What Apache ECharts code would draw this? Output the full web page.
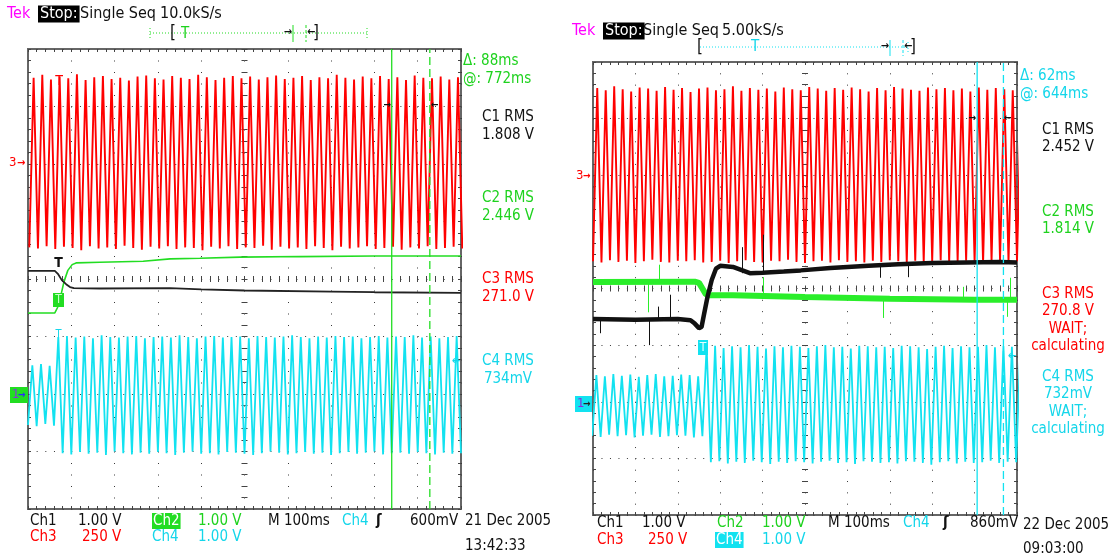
<!DOCTYPE html>
<html><head><meta charset="utf-8">
<script src="https://cdn.jsdelivr.net/npm/echarts@6/dist/echarts.min.js"></script>
<style>html,body{margin:0;padding:0;background:#fff}#c{width:1110px;height:560px}</style>
</head><body><div id="c"></div>
<script>
// ---------------- DATA ----------------
// time axis in ms (100 ms/div, 10 div), vertical axis in screen divisions (8 div)
const timeMin = 0, timeMax = 1000, timeStep = 100;
const divMin = -4, divMax = 4, divStep = 1;
const halfPeriod = 10; // 50 Hz mains: crest/trough every 10 ms

// ---- Left capture (21 Dec 2005 13:42:33) ----
const leftRedStart = 3;   // first trough time (ms)
const leftRedLo = [0.55,0.53,0.57,0.52,0.56,0.54,0.50,0.57,0.53,0.55,0.52,0.58,0.54,0.51,0.56,0.53,0.57,0.52,0.55,0.54,0.50,0.56,0.53,0.57,0.52,0.55,0.54,0.58,0.51,0.56,0.53,0.55,0.52,0.57,0.54,0.50,0.56,0.53,0.55,0.57,0.52,0.54,0.56,0.51,0.55,0.53,0.57,0.52,0.54,0.56,0.53];
const leftRedHi = [3.50,3.55,3.47,3.52,3.49,3.56,3.46,3.51,3.53,3.48,3.50,3.45,3.52,3.54,3.49,3.47,3.53,3.50,3.48,3.55,3.51,3.46,3.50,3.53,3.49,3.52,3.47,3.51,3.54,3.48,3.50,3.53,3.46,3.51,3.49,3.55,3.50,3.47,3.52,3.49,3.53,3.48,3.51,3.46,3.54,3.50,3.49,3.52,3.47,3.51];
const leftCyanStart = 0;  // first trough time (ms)
const leftCyanLo = [-2.54,-2.56,-2.52,-2.55,-3.03,-3.05,-3.01,-3.04,-3.02,-3.06,-3.00,-3.03,-3.05,-3.02,-3.04,-3.01,-3.03,-3.06,-3.02,-3.00,-3.04,-3.03,-3.05,-3.01,-3.02,-3.04,-3.06,-3.03,-3.00,-3.02,-3.05,-3.03,-3.01,-3.04,-3.02,-3.06,-3.03,-3.01,-3.04,-3.02,-3.00,-3.05,-3.03,-3.02,-3.04,-3.01,-3.03,-3.05,-3.02,-3.04,-3.03];
const leftCyanHi = [-1.50,-1.48,-1.51,-1.01,-0.99,-1.02,-1.00,-1.03,-0.98,-1.01,-1.02,-1.00,-0.99,-1.03,-1.01,-1.00,-1.02,-0.98,-1.01,-1.03,-1.00,-0.99,-1.02,-1.01,-1.00,-1.03,-0.99,-1.01,-1.02,-1.00,-0.98,-1.01,-1.03,-1.00,-1.02,-0.99,-1.01,-1.00,-1.03,-1.01,-0.99,-1.02,-1.00,-1.01,-0.98,-1.02,-1.00,-1.03,-1.01,-0.99];
const leftGreenT = [0, 62, 68, 74, 83, 92, 102, 111, 166, 266, 328, 397, 490, 628, 800, 1000];
const leftGreenV = [-0.59, -0.59, -0.50, -0.35, -0.05, 0.15, 0.25, 0.28, 0.29, 0.31, 0.35, 0.36, 0.38, 0.39, 0.40, 0.40];
const leftBlackT = [0, 62, 69, 78, 88, 97, 106, 166, 328, 400, 500, 700, 800, 1000];
const leftBlackV = [0.14, 0.14, 0.09, -0.02, -0.09, -0.14, -0.16, -0.165, -0.16, -0.18, -0.20, -0.22, -0.23, -0.24];
const leftCursors = [840, 928];

// ---- Right capture (22 Dec 2005 09:03:00) ----
const rightRedStart = 0;
const rightRedLo = [0.48,0.46,0.50,0.47,0.49,0.45,0.48,0.51,0.47,0.46,0.49,0.48,0.50,0.46,0.47,0.49,0.45,0.48,0.50,0.47,0.46,0.49,0.48,0.51,0.47,0.45,0.48,0.49,0.46,0.50,0.47,0.48,0.46,0.49,0.47,0.50,0.48,0.45,0.49,0.47,0.48,0.50,0.46,0.48,0.49,0.47,0.45,0.48,0.50,0.47,0.48];
const rightRedHi = [3.54,3.50,3.57,3.52,3.48,3.55,3.53,3.49,3.56,3.51,3.54,3.47,3.53,3.55,3.50,3.52,3.57,3.49,3.54,3.51,3.53,3.48,3.55,3.52,3.50,3.56,3.53,3.49,3.54,3.51,3.55,3.52,3.48,3.54,3.50,3.56,3.53,3.51,3.49,3.55,3.52,3.54,3.50,3.53,3.48,3.55,3.51,3.54,3.52,3.50,3.53];
const rightCyanStart = -2;
const rightCyanLo = [-2.60,-2.62,-2.58,-2.61,-2.59,-2.63,-2.60,-2.58,-2.62,-2.61,-2.59,-2.60,-2.63,-2.61,-3.07,-3.05,-3.09,-3.06,-3.08,-3.04,-3.07,-3.10,-3.06,-3.08,-3.05,-3.07,-3.09,-3.06,-3.04,-3.08,-3.07,-3.10,-3.05,-3.06,-3.08,-3.07,-3.09,-3.05,-3.06,-3.08,-3.11,-3.07,-3.05,-3.09,-3.06,-3.08,-3.07,-3.04,-3.08,-3.06,-3.07];
const rightCyanHi = [-1.53,-1.55,-1.51,-1.54,-1.52,-1.56,-1.53,-1.51,-1.55,-1.54,-1.52,-1.53,-1.55,-1.03,-1.01,-1.05,-1.02,-1.04,-1.00,-1.03,-1.06,-1.02,-1.04,-1.01,-1.03,-1.05,-1.02,-1.00,-1.04,-1.03,-1.06,-1.01,-1.02,-1.04,-1.03,-1.05,-1.01,-1.02,-1.04,-1.07,-1.03,-1.01,-1.05,-1.02,-1.04,-1.03,-1.00,-1.04,-1.02,-1.03,-1.04];
const rightBlackT = [0, 100, 200, 230, 240, 250, 256, 262, 270, 280, 290, 300, 330, 370, 400, 450, 490, 560, 650, 720, 800, 880, 960, 1000];
const rightBlackV = [-0.54, -0.55, -0.54, -0.56, -0.62, -0.70, -0.68, -0.45, -0.15, 0.15, 0.35, 0.40, 0.38, 0.27, 0.28, 0.30, 0.32, 0.36, 0.40, 0.43, 0.45, 0.46, 0.47, 0.46];
const rightGreenT = [0, 240, 250, 258, 266, 275, 330, 500, 700, 900, 1000];
const rightGreenV = [0.115, 0.12, 0.10, 0.0, -0.10, -0.12, -0.12, -0.15, -0.18, -0.20, -0.20];
// noise spikes: [time, base, tip]
const rightBlackSpikes = [[17,-0.54,-0.79],[132,-0.54,-1.0],[153,-0.54,-0.32],[182,-0.54,-0.11],[351,0.27,0.73],[401,0.29,0.95],[677,0.42,0.19],[743,0.44,0.20]];
const rightGreenSpikes = [[130,0.11,-0.42],[156,0.11,0.42],[401,-0.13,0.20],[684,-0.17,-0.52],[873,-0.19,0.03],[978,-0.20,-0.50],[983,-0.20,0.19]];
const rightCursors = [906, 968];

// ---------------- STYLE / LAYOUT ----------------
const FF = "'Liberation Sans Narrow','DejaVu Sans Condensed','Arial Narrow',sans-serif";
const RED = '#ff0000', GREEN = '#22dd22', CYAN = '#12e2f0', MAG = '#ff00ff', BLK = '#111111';
const GREEN_T = '#1ed21e', CYAN_T = '#14d6ea';
const G = [
  {left: 28, top: 49, width: 433, height: 460},
  {left: 593, top: 62, width: 424, height: 453}
];

function zig(start, lo, hi) {
  const d = [];
  const n = Math.max(lo.length, hi.length);
  for (let k = 0; k < n; k++) {
    if (k < lo.length) d.push([start + 2 * halfPeriod * k, lo[k]]);
    if (k < hi.length) d.push([start + 2 * halfPeriod * k + halfPeriod, hi[k]]);
  }
  return d;
}
function pairs(t, v) { return t.map((x, i) => [x, v[i]]); }

const tickCol = '#444', dotCol = '#3a3a3a';
function axesFor(gi) {
  const g = G[gi], W = g.width, H = g.height;
  const base = {gridIndex: gi, type: 'value', axisLabel: {show: false}, splitLine: {show: false}};
  const tk = {show: true, inside: true, length: 3, lineStyle: {color: tickCol, width: 1}};
  const mt = {show: true, splitNumber: 5, length: 3, lineStyle: {color: tickCol, width: 1}};
  const xs = [
    Object.assign({}, base, {min: timeMin, max: timeMax, interval: timeStep, position: 'bottom',
      axisLine: {show: false, onZero: false}, axisTick: tk, minorTick: mt,
      splitLine: {show: true, lineStyle: {color: dotCol, width: 1, type: [1, H / 40 - 1]}}}),
    Object.assign({}, base, {min: timeMin, max: timeMax, interval: timeStep, position: 'top',
      axisLine: {show: false, onZero: false}, axisTick: tk, minorTick: mt}),
    Object.assign({}, base, {min: timeMin, max: timeMax, interval: timeStep, position: 'bottom', offset: -H / 2,
      axisLine: {show: false, onZero: false}, axisTick: tk, minorTick: mt}),
    Object.assign({}, base, {min: timeMin, max: timeMax, interval: timeStep, position: 'top', offset: -H / 2,
      axisLine: {show: false, onZero: false}, axisTick: tk, minorTick: mt})
  ];
  const ys = [
    Object.assign({}, base, {min: divMin, max: divMax, interval: divStep, position: 'left',
      axisLine: {show: false, onZero: false}, axisTick: tk, minorTick: mt,
      splitLine: {show: true, lineStyle: {color: dotCol, width: 1, type: [1, W / 50 - 1]}}}),
    Object.assign({}, base, {min: divMin, max: divMax, interval: divStep, position: 'right',
      axisLine: {show: false, onZero: false}, axisTick: tk, minorTick: mt}),
    Object.assign({}, base, {min: divMin, max: divMax, interval: divStep, position: 'left', offset: -W / 2,
      axisLine: {show: false, onZero: false}, axisTick: tk, minorTick: mt}),
    Object.assign({}, base, {min: divMin, max: divMax, interval: divStep, position: 'right', offset: -W / 2,
      axisLine: {show: false, onZero: false}, axisTick: tk, minorTick: mt})
  ];
  return {xs, ys};
}
const A0 = axesFor(0), A1 = axesFor(1);

function line(gi, data, color, width, z, extra) {
  return Object.assign({type: 'line', xAxisIndex: gi * 4, yAxisIndex: gi * 4, data: data, showSymbol: false,
    symbol: 'none', silent: true, clip: true, z: z || 2,
    lineStyle: {color: color, width: width}}, extra || {});
}
function spikes(list) {
  return {symbol: 'none', silent: true, label: {show: false}, lineStyle: {type: 'solid', width: 1},
    data: list.map(s => [{coord: [s[0], s[1]]}, {coord: [s[0], s[2]]}])};
}
function cursor(gi, t, color, dashed) {
  return line(gi, [[t, divMin], [t, divMax]], color, 1.3, 6,
    {lineStyle: {color: color, width: 1.3, type: dashed ? [8, 4] : 'solid'}});
}

const series = [
  line(0, zig(leftRedStart, leftRedLo, leftRedHi), RED, 1.9, 3),
  line(0, pairs(leftGreenT, leftGreenV), GREEN, 1.6, 4),
  line(0, pairs(leftBlackT, leftBlackV), '#222', 1.8, 4),
  line(0, zig(leftCyanStart, leftCyanLo, leftCyanHi), CYAN, 1.8, 3),
  cursor(0, leftCursors[0], GREEN, false),
  cursor(0, leftCursors[1], GREEN, true),
  line(1, zig(rightRedStart, rightRedLo, rightRedHi), RED, 1.9, 3),
  line(1, pairs(rightGreenT, rightGreenV), '#2aee2a', 6, 4, {markLine: Object.assign(spikes(rightGreenSpikes), {lineStyle: {color: '#2aee2a', width: 1, type: 'solid'}})}),
  line(1, pairs(rightBlackT, rightBlackV), BLK, 4.5, 4, {markLine: Object.assign(spikes(rightBlackSpikes), {lineStyle: {color: BLK, width: 1, type: 'solid'}})}),
  line(1, zig(rightCyanStart, rightCyanLo, rightCyanHi), CYAN, 1.8, 3),
  cursor(1, rightCursors[0], CYAN, false),
  cursor(1, rightCursors[1], CYAN, true)
];

// ---------------- TEXT / MARKERS ----------------
function T(x, y, s, fill, o) {
  o = o || {};
  const al = o.align || 'left';
  const st = {text: s, fill: fill, font: (o.weight || 'normal') + ' ' + (o.size || 15) + 'px ' + FF,
    align: al, textAlign: al, verticalAlign: 'middle', textVerticalAlign: 'middle'};
  if (o.bg) { st.backgroundColor = o.bg; st.padding = o.pad || [1, 2, 0, 2]; }
  return {type: 'text', x: x, y: y, z: 100, silent: true, style: st};
}
function R(x, y, w, h, fill) { return {type: 'rect', z: 99, silent: true, shape: {x: x, y: y, width: w, height: h}, style: {fill: fill}}; }
function L(x1, y1, x2, y2, stroke, dash, w) {
  return {type: 'line', z: 99, silent: true, shape: {x1: x1, y1: y1, x2: x2, y2: y2},
    style: {stroke: stroke, lineWidth: w || 1, lineDash: dash || null}};
}

const leftReadouts = [
  ['C1 RMS', '1.808 V', BLK, 117], ['C2 RMS', '2.446 V', GREEN_T, 198],
  ['C3 RMS', '271.0 V', RED, 279], ['C4 RMS', '734mV', CYAN_T, 361]
];
const rightReadouts = [
  ['C1 RMS', '2.452 V', BLK, 130], ['C2 RMS', '1.814 V', GREEN_T, 212],
  ['C3 RMS', '270.8 V', RED, 294], ['C4 RMS', '732mV', CYAN_T, 377]
];

const gfx = [];
// headers
gfx.push(T(7, 14, 'Tek', MAG, {size: 16}));
gfx.push(T(38, 14, 'Stop:', '#fff', {size: 16, bg: '#000'}));
gfx.push(T(80, 14, 'Single Seq', BLK, {size: 16}));
gfx.push(T(160, 14, '10.0kS/s', BLK, {size: 16}));
gfx.push(T(572, 31, 'Tek', MAG, {size: 16}));
gfx.push(T(603, 31, 'Stop:', '#fff', {size: 16, bg: '#000'}));
gfx.push(T(643, 31, 'Single Seq', BLK, {size: 16}));
gfx.push(T(722, 31, '5.00kS/s', BLK, {size: 16}));

// record-view bars
gfx.push(L(150, 33, 367, 33, GREEN, [1, 2]));
gfx.push(L(150, 28, 150, 38, GREEN, [1, 2]));
gfx.push(L(367, 28, 367, 38, GREEN, [1, 2]));
gfx.push(T(170, 34, '[', BLK, {size: 17}));
gfx.push(T(181, 34, 'T', GREEN_T, {size: 15}));
gfx.push(T(292, 32, '→', BLK, {size: 11, align: 'right', weight: 'bold'}));
gfx.push(L(293, 25, 293, 42, GREEN, null, 1));
gfx.push(L(306, 25, 306, 42, GREEN, [3, 2], 1));
gfx.push(T(307, 32, '←', BLK, {size: 11, weight: 'bold'}));
gfx.push(T(313, 34, ']', BLK, {size: 17}));

gfx.push(L(700, 47, 908, 47, CYAN, [1, 2]));
gfx.push(L(908, 42, 908, 52, CYAN, [1, 2]));
gfx.push(T(697, 48, '[', BLK, {size: 17}));
gfx.push(T(751, 47, 'T', CYAN_T, {size: 15}));
gfx.push(T(889, 46, '→', BLK, {size: 11, align: 'right', weight: 'bold'}));
gfx.push(L(890, 40, 890, 56, CYAN, null, 1));
gfx.push(L(903, 40, 903, 56, CYAN, [3, 2], 1));
gfx.push(T(904, 46, '←', BLK, {size: 11, weight: 'bold'}));
gfx.push(T(910, 48, ']', BLK, {size: 17}));

// left panel markers
gfx.push(T(9, 163, '3', RED, {size: 13}));
gfx.push(T(17, 163, '→', RED, {size: 11, weight: 'bold'}));
gfx.push(R(10, 387, 18, 16, GREEN));
gfx.push(T(12, 395, '1', '#8a2be2', {size: 13}));
gfx.push(T(18, 395, '→', '#2a2aff', {size: 10, weight: 'bold'}));
gfx.push(R(53, 293, 11, 14, GREEN));
gfx.push(T(58.5, 300, 'T', '#c8ffc8', {size: 12, align: 'center'}));
gfx.push(T(58.5, 263, 'T', BLK, {size: 14, align: 'center', weight: 'bold'}));
gfx.push(T(59, 81, 'T', RED, {size: 14, align: 'center'}));
gfx.push(T(58.5, 334, 'T', CYAN_T, {size: 11, align: 'center'}));
gfx.push(T(460, 361, '←', CYAN_T, {size: 11, align: 'right', weight: 'bold'}));
gfx.push(T(391, 105, '→', BLK, {size: 10, align: 'right', weight: 'bold'}));
gfx.push(T(431, 105, '←', BLK, {size: 10, weight: 'bold'}));

// right panel markers
gfx.push(T(576, 176, '3', RED, {size: 13}));
gfx.push(T(583, 176, '→', RED, {size: 10, weight: 'bold'}));
gfx.push(R(575, 396, 17, 16, CYAN));
gfx.push(T(577, 404, '1', '#8a2be2', {size: 13}));
gfx.push(T(583, 404, '→', '#222', {size: 10, weight: 'bold'}));
gfx.push(R(698, 340, 10, 15, CYAN));
gfx.push(T(703, 347.5, 'T', '#e8ffff', {size: 12, align: 'center'}));
gfx.push(T(1016, 356, '←', CYAN_T, {size: 11, align: 'right', weight: 'bold'}));
gfx.push(T(976, 118, '→', BLK, {size: 10, align: 'right', weight: 'bold'}));
gfx.push(T(1004, 118, '←', BLK, {size: 10, weight: 'bold'}));

// readouts
gfx.push(T(463, 61, 'Δ: 88ms', GREEN_T, {size: 15}));
gfx.push(T(463, 79, '@: 772ms', GREEN_T, {size: 15}));
leftReadouts.forEach(r => { gfx.push(T(508, r[3], r[0], r[2], {align: 'center'})); gfx.push(T(508, r[3] + 18, r[1], r[2], {align: 'center'})); });
gfx.push(T(1020, 76, 'Δ: 62ms', CYAN_T, {size: 15}));
gfx.push(T(1020, 94, '@: 644ms', CYAN_T, {size: 15}));
rightReadouts.forEach(r => { gfx.push(T(1068, r[3], r[0], r[2], {align: 'center'})); gfx.push(T(1068, r[3] + 17, r[1], r[2], {align: 'center'})); });
gfx.push(T(1068, 329, 'WAIT;', RED, {align: 'center'}));
gfx.push(T(1068, 346, 'calculating', RED, {align: 'center'}));
gfx.push(T(1068, 412, 'WAIT;', CYAN_T, {align: 'center'}));
gfx.push(T(1068, 429, 'calculating', CYAN_T, {align: 'center'}));

// bottom status lines
gfx.push(T(30, 521, 'Ch1', BLK)); gfx.push(T(78, 521, '1.00 V', BLK));
gfx.push(T(152, 521, 'Ch2', '#fff', {bg: GREEN, pad: [1, 1, 0, 1]})); gfx.push(T(198, 521, '1.00 V', GREEN_T));
gfx.push(T(268, 521, 'M 100ms', BLK)); gfx.push(T(342, 521, 'Ch4', CYAN_T));
gfx.push(T(376, 521, 'ʃ', BLK, {weight: 'bold'})); gfx.push(T(410, 521, '600mV', BLK));
gfx.push(T(30, 537, 'Ch3', RED)); gfx.push(T(82, 537, '250 V', RED));
gfx.push(T(152, 537, 'Ch4', CYAN_T)); gfx.push(T(198, 537, '1.00 V', CYAN_T));
gfx.push(T(465, 521, '21 Dec 2005', BLK)); gfx.push(T(465, 546, '13:42:33', BLK));

gfx.push(T(597, 523, 'Ch1', BLK)); gfx.push(T(642, 523, '1.00 V', BLK));
gfx.push(T(717, 523, 'Ch2', GREEN_T)); gfx.push(T(762, 523, '1.00 V', GREEN_T));
gfx.push(T(828, 523, 'M 100ms', BLK)); gfx.push(T(903, 523, 'Ch4', CYAN_T));
gfx.push(T(943, 523, 'ʃ', BLK, {weight: 'bold'})); gfx.push(T(970, 523, '860mV', BLK));
gfx.push(T(597, 540, 'Ch3', RED)); gfx.push(T(648, 540, '250 V', RED));
gfx.push(T(715, 540, 'Ch4', '#fff', {bg: CYAN, pad: [1, 1, 0, 1]})); gfx.push(T(762, 540, '1.00 V', CYAN_T));
gfx.push(T(1023, 525, '22 Dec 2005', BLK)); gfx.push(T(1023, 549, '09:03:00', BLK));

const chart = echarts.init(document.getElementById('c'), null, {renderer: 'canvas'});
chart.setOption({
  animation: false,
  backgroundColor: '#ffffff',
  grid: G.map(g => Object.assign({show: true, borderColor: '#666', borderWidth: 2, containLabel: false, outerBoundsMode: 'none'}, g)),
  xAxis: A0.xs.concat(A1.xs),
  yAxis: A0.ys.concat(A1.ys),
  series: series,
  graphic: {elements: gfx}
});
</script>
</body></html>
